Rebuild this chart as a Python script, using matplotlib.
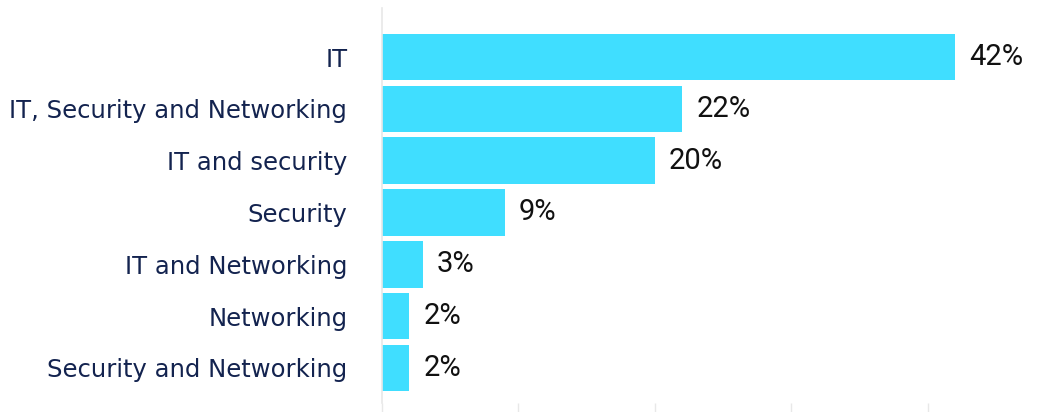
import matplotlib
matplotlib.use("Agg")
import matplotlib.pyplot as plt

categories = [
    "IT",
    "IT, Security and Networking",
    "IT and security",
    "Security",
    "IT and Networking",
    "Networking",
    "Security and Networking",
]
shares = [42, 22, 20, 9, 3, 2, 2]
value_labels = ["42%", "22%", "20%", "9%", "3%", "2%", "2%"]
x_ticks = [0, 10, 20, 30, 40]

BAR_COLOR = "#40DEFF"
LABEL_COLOR = "#13234f"
GRID_COLOR = "#e8e8e8"

W, H = 1053, 412
fig = plt.figure(figsize=(W / 100, H / 100), dpi=100)

# axes box in pixel terms: left edge at the zero line, bottom where the ticks start
left, right, top, bottom = 382, 1040, 8, 403
ax = fig.add_axes([left / W, 1 - bottom / H, (right - left) / W, (bottom - top) / H])

px_per_unit = 573 / 42
ax.set_xlim(0, (right - left) / px_per_unit)
ax.set_ylim(6.676, -0.946)

pos = list(range(len(categories)))
ax.barh(pos, shares, height=0.9, color=BAR_COLOR, zorder=2)

for y, v, txt in zip(pos, shares, value_labels):
    ax.annotate(txt, (v, y), xytext=(14, 0), textcoords="offset pixels",
                va="center", ha="left", fontsize=21, family="Roboto",
                color="#111111")

ax.set_yticks(pos)
ax.set_yticklabels(categories, fontsize=17.5, family="DejaVu Sans",
                   color=LABEL_COLOR)
ax.tick_params(axis="y", length=0, pad=25)

ax.set_xticks(x_ticks)
ax.set_xticklabels([])
ax.tick_params(axis="x", length=7, width=1, color=GRID_COLOR, direction="out")

for side in ["top", "right", "bottom"]:
    ax.spines[side].set_visible(False)
ax.spines["left"].set_color(GRID_COLOR)
ax.spines["left"].set_linewidth(1.2)

fig.savefig("out.png", dpi=100)
